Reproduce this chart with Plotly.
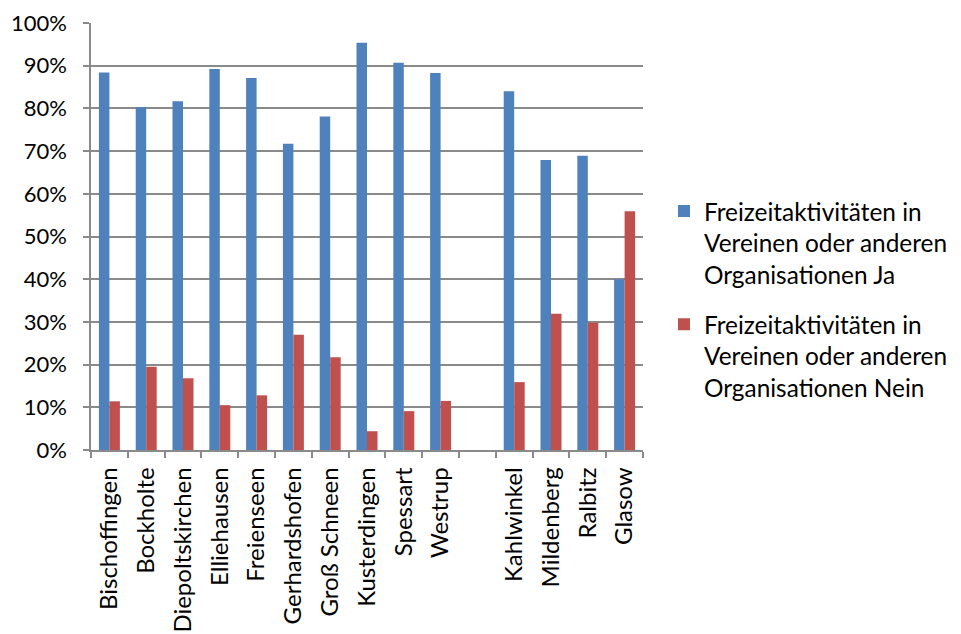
import plotly.graph_objects as go

categories = ["Bischoffingen", "Bockholte", "Diepoltskirchen", "Elliehausen", "Freienseen",
              "Gerhardshofen", "Groß Schneen", "Kusterdingen", "Spessart", "Westrup", " ",
              "Kahlwinkel", "Mildenberg", "Ralbitz", "Glasow"]
ja_values = [0.884, 0.803, 0.817, 0.892, 0.871, 0.717, 0.781, 0.954, 0.907, 0.883, None,
             0.840, 0.679, 0.689, 0.400]
nein_values = [0.114, 0.195, 0.168, 0.105, 0.128, 0.270, 0.217, 0.044, 0.091, 0.115, None,
               0.159, 0.319, 0.298, 0.559]
series_names = ["Freizeitaktivitäten in<br>Vereinen oder anderen<br>Organisationen Ja",
                "Freizeitaktivitäten in<br>Vereinen oder anderen<br>Organisationen Nein"]
y_ticks = [i / 10 for i in range(11)]

FONT = "Lato"
GRID = "#8a8a8a"

fig = go.Figure()
fig.add_trace(go.Bar(x=categories, y=ja_values, name=series_names[0], legendgroup="ja",
                     marker=dict(color="#4F81BD", line=dict(width=0))))
fig.add_trace(go.Bar(x=categories, y=nein_values, name=series_names[1], legendgroup="nein",
                     marker=dict(color="#C0504D", line=dict(width=0))))

fig.update_layout(
    width=953, height=626, autosize=False,
    margin=dict(l=83, r=318, t=15, b=184, autoexpand=False),
    paper_bgcolor="white", plot_bgcolor="white",
    barmode="group", bargap=0.43, bargroupgap=0,
    font=dict(family=FONT, color="black"),
    showlegend=True,
    legend=dict(x=1.038, y=0.352, xanchor="left", yanchor="middle",
                font=dict(family=FONT, size=24.4, color="black"),
                valign="top", tracegroupgap=15, itemwidth=30,
                bgcolor="rgba(0,0,0,0)"),
    xaxis=dict(type="category", tickangle=-90, tickson="boundaries",
               ticks="outside", ticklen=6, tickwidth=1.5, tickcolor=GRID,
               showline=True, linecolor=GRID, linewidth=1.5, automargin=False,
               ticklabelstandoff=6,
               showgrid=False, tickfont=dict(family=FONT, size=24, color="black"),
               range=[-0.5, len(categories) - 0.5]),
    yaxis=dict(range=[0, 1], tickvals=y_ticks, tickformat=".0%",
               ticks="outside", ticklen=6, tickwidth=1.5, tickcolor=GRID,
               showline=True, linecolor=GRID, linewidth=1.5, automargin=False,
               ticklabelstandoff=12,
               showgrid=True, gridcolor=GRID, gridwidth=1.5,
               zeroline=False, tickfont=dict(family=FONT, size=22, color="black")),
)

fig.write_html("out.html")
